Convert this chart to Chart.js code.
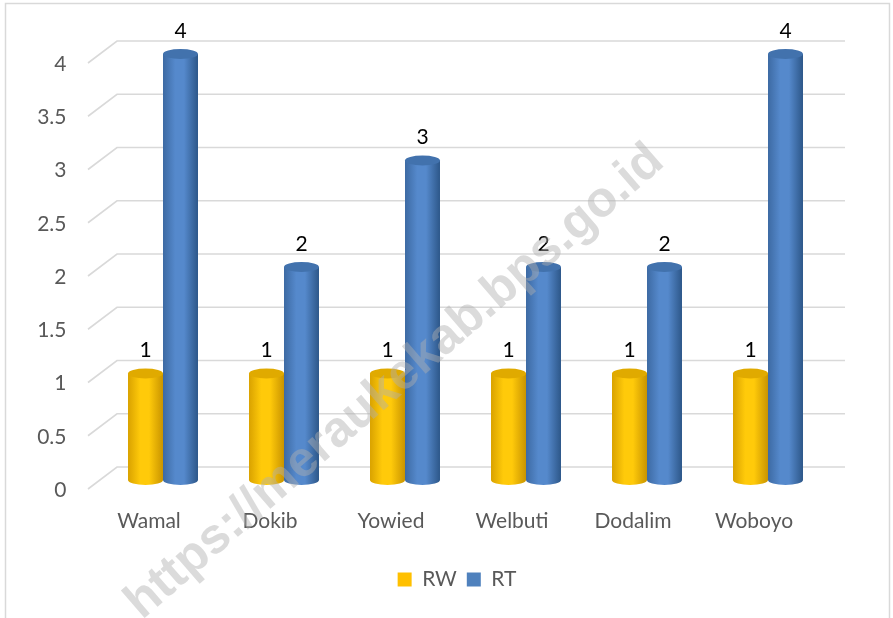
<!DOCTYPE html>
<html>
<head>
<meta charset="utf-8">
<script src="https://cdn.jsdelivr.net/npm/chart.js@4.4.0/dist/chart.umd.min.js"></script>
<style>
  html, body { margin:0; padding:0; background:#fff; }
  #wrap { width:893px; height:618px; }
</style>
</head>
<body>
<div id="wrap"><canvas id="chart" width="893" height="618"></canvas></div>
<script>
const categories = ['Wamal', 'Dokib', 'Yowied', 'Welbuti', 'Dodalim', 'Woboyo'];
const rwValues = [1, 1, 1, 1, 1, 1];
const rtValues = [4, 2, 3, 2, 2, 4];
const yTicks = [0, 0.5, 1, 1.5, 2, 2.5, 3, 3.5, 4];

const FONT = 'Lato, "Noto Sans", sans-serif';
// cylinder shades: left edge, middle, right edge, top cap
const gold = ['#d9a200', '#ffca0a', '#c99400', '#e0aa00'];
const blue = ['#3d6aa3', '#5589cc', '#2d5789', '#4272ad'];

// back wall grid + perspective lines
const gridPlugin = {
  id: 'grid3d',
  beforeDatasetsDraw(chart) {
    const {ctx, chartArea: a} = chart;
    const y = chart.scales.y;
    ctx.save();
    ctx.strokeStyle = '#d9d9d9';
    ctx.lineWidth = 1.6;
    ctx.beginPath();
    yTicks.forEach(v => {
      const p = y.getPixelForValue(v);
      ctx.moveTo(a.left - 14.5, p + 9);
      ctx.lineTo(a.left + 14.5, p - 13);
      ctx.lineTo(a.right + 16.5, p - 13);
    });
    ctx.stroke();
    ctx.restore();
  }
};

function drawCylinder(ctx, bar, cols) {
  const w = bar.width, cx = bar.x, x0 = cx - w / 2, x1 = cx + w / 2;
  const top = bar.y, bot = bar.base, ry = 5;
  const g = ctx.createLinearGradient(x0, 0, x1, 0);
  g.addColorStop(0, cols[0]);
  g.addColorStop(0.35, cols[1]);
  g.addColorStop(0.6, cols[1]);
  g.addColorStop(1, cols[2]);
  ctx.fillStyle = g;
  ctx.beginPath();
  ctx.moveTo(x0, top);
  ctx.lineTo(x0, bot);
  ctx.ellipse(cx, bot, w / 2, ry, 0, Math.PI, 0, true);
  ctx.lineTo(x1, top);
  ctx.closePath();
  ctx.fill();
  ctx.beginPath();
  ctx.ellipse(cx, top, w / 2, ry, 0, 0, Math.PI * 2);
  ctx.fillStyle = cols[3];
  ctx.fill();
}

const cylPlugin = {
  id: 'cylinders',
  afterDatasetsDraw(chart) {
    const ctx = chart.ctx;
    ctx.save();
    chart.data.datasets.forEach((ds, i) => {
      const meta = chart.getDatasetMeta(i);
      const cols = i === 0 ? gold : blue;
      meta.data.forEach((bar, j) => {
        drawCylinder(ctx, bar, cols);
        ctx.fillStyle = '#000';
        ctx.font = '21px ' + FONT;
        ctx.textAlign = 'center';
        ctx.textBaseline = 'middle';
        ctx.fillText(String(ds.data[j]), bar.x, bar.y - 23);
      });
    });
    ctx.restore();
  },
  afterDraw(chart) {
    const ctx = chart.ctx;
    ctx.save();
    ctx.strokeStyle = '#d9d9d9';
    ctx.lineWidth = 1.5;
    ctx.strokeRect(5.5, 3.5, 884, 630);
    ctx.translate(395, 382);
    ctx.rotate(-41 * Math.PI / 180);
    ctx.font = 'bold 50px "Liberation Sans", Arial, sans-serif';
    ctx.fillStyle = 'rgba(175,175,175,0.45)';
    ctx.textAlign = 'center';
    ctx.textBaseline = 'middle';
    ctx.fillText('https://meraukekab.bps.go.id', 0, 0);
    ctx.restore();
  }
};

new Chart(document.getElementById('chart'), {
  type: 'bar',
  data: {
    labels: categories,
    datasets: [
      { label: 'RW', data: rwValues, backgroundColor: '#ffc000', borderWidth: 0 },
      { label: 'RT', data: rtValues, backgroundColor: '#4f81bd', borderWidth: 0 }
    ]
  },
  options: {
    responsive: false,
    animation: false,
    layout: { padding: { top: 54, right: 0, left: 21, bottom: 18 } },
    datasets: { bar: { categoryPercentage: 0.578, barPercentage: 1.0 } },
    scales: {
      x: {
        grid: { display: false, drawTicks: false },
        border: { display: false },
        ticks: { color: '#595959', font: { family: FONT, size: 21 }, padding: 29, labelOffset: -14 },
        afterFit(s) { s.height = 79; }
      },
      y: {
        min: 0, max: 4,
        afterBuildTicks(s) { s.ticks = yTicks.map(v => ({ value: v })); },
        grid: { display: false, drawTicks: false },
        border: { display: false },
        ticks: {
          color: '#595959', font: { family: FONT, size: 21 }, padding: 36, labelOffset: 10,
          callback: v => String(v)
        },
        afterFit(s) { s.width = 81.5; }
      },
      // empty right axis, only reserves the space right of the plot
      yRight: {
        position: 'right', min: 0, max: 4,
        grid: { display: false, drawTicks: false },
        border: { display: false },
        ticks: { display: false },
        afterFit(s) { s.width = 64.5; }
      }
    },
    plugins: {
      legend: {
        position: 'bottom',
        labels: { boxWidth: 14, boxHeight: 14, color: '#595959', font: { family: FONT, size: 21 }, padding: 10 }
      },
      tooltip: { enabled: false }
    }
  },
  plugins: [gridPlugin, cylPlugin]
});
</script>
</body>
</html>
